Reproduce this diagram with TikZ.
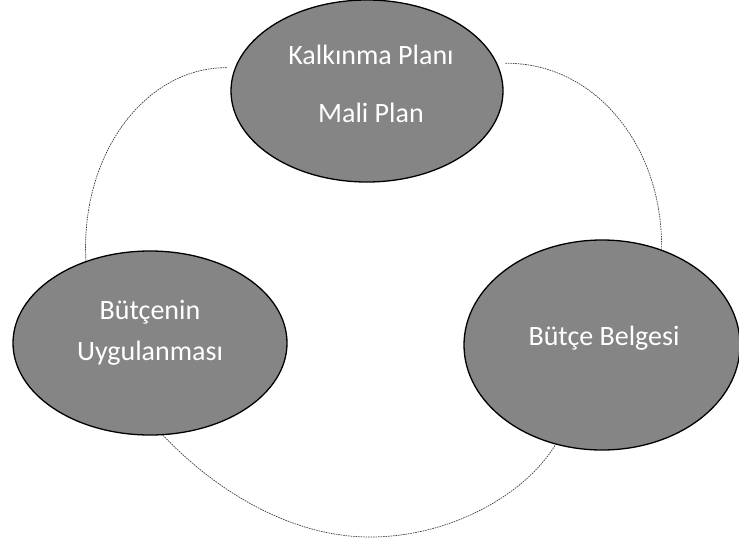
\documentclass[tikz,border=0pt]{standalone}
\usepackage{fontspec}
\setmainfont{Carlito}
\usetikzlibrary{shapes.geometric}
\begin{document}
\begin{tikzpicture}[x=1pt,y=-1pt,
  phase/.style={ellipse, draw=black, line width=1.3pt, fill=black!48,
    inner sep=0pt},
  lbl/.style={text=white, font=\fontsize{28}{34}\selectfont, align=center},
  link/.style={draw=black!75, line width=0.7pt, dash pattern=on 1.6pt off 0.9pt}]
\useasboundingbox (0,0) rectangle (739,547);
\node[phase, minimum width=272pt, minimum height=182pt,
  label={[lbl, xshift=4pt, yshift=7pt]center:Kalkınma Planı\\[24pt]Mali Plan}] (top) at (367,91) {};
\node[phase, minimum width=274pt, minimum height=184pt,
  label={[lbl, yshift=10pt]center:Bütçenin\\[7pt]Uygulanması}] (left) at (150,343) {};
\node[phase, minimum width=276pt, minimum height=210pt,
  label={[lbl, xshift=2pt, yshift=7pt]center:Bütçe Belgesi}] (right) at (602,345) {};
\coordinate (b1) at (370,537);
\draw[link] ([xshift=-8pt]top.170) .. controls (147,67) and (80,152) .. (left.128);
\draw[link] ([xshift=8pt]top.12) .. controls (593,62) and (663,144) .. (right.58);
\draw[link] (left.-82) .. controls (215,490) and (290,537) .. (b1)
  .. controls (450,537) and (525,495) .. (right.-115);
\end{tikzpicture}
\end{document}
